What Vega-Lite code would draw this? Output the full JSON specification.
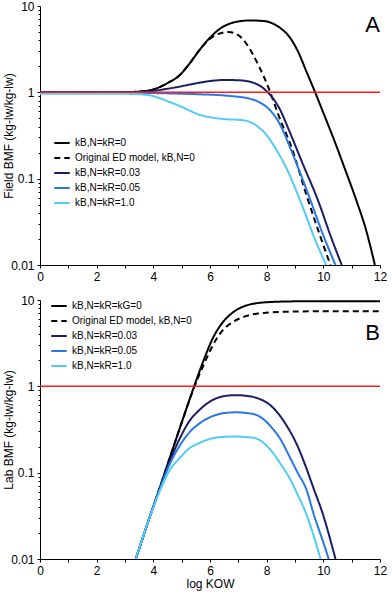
{
  "$schema": "https://vega.github.io/schema/vega-lite/v6.json",
  "padding": {"top": 0, "left": 2, "right": 4, "bottom": 2},
  "spacing": 12,
  "config": {
    "font": "Liberation Sans",
    "view": {"stroke": null},
    "axis": {"domainColor": "#000", "tickColor": "#000", "labelColor": "#000", "titleColor": "#000", "labelFontSize": 12, "titleFontSize": 12, "titleFontWeight": "normal", "grid": false, "labelPadding": 3},
    "axisY": {"titlePadding": -5},
    "legend": {"orient": "none", "title": null, "symbolType": "stroke", "symbolSize": 240, "symbolStrokeWidth": 2, "labelFontSize": 10, "labelOffset": 4, "rowPadding": 1, "padding": 0, "labelColor": "#000"},
    "title": {"fontSize": 22, "fontWeight": "normal", "color": "#000", "anchor": "end", "frame": "group"}
  },
  "datasets": {
    "A": [
      {"s":"kB,N=kR=0","x":0,"y":1},{"s":"kB,N=kR=0","x":1,"y":1},{"s":"kB,N=kR=0","x":2,"y":1},{"s":"kB,N=kR=0","x":3,"y":1.005},{"s":"kB,N=kR=0","x":3.5,"y":1.02},{"s":"kB,N=kR=0","x":4,"y":1.08},{"s":"kB,N=kR=0","x":4.5,"y":1.28},{"s":"kB,N=kR=0","x":4.9,"y":1.55},{"s":"kB,N=kR=0","x":5.3,"y":2.2},{"s":"kB,N=kR=0","x":5.6,"y":3.0},{"s":"kB,N=kR=0","x":6.0,"y":4.3},{"s":"kB,N=kR=0","x":6.3,"y":5.3},{"s":"kB,N=kR=0","x":6.8,"y":6.4},{"s":"kB,N=kR=0","x":7.4,"y":6.8},{"s":"kB,N=kR=0","x":7.9,"y":6.7},{"s":"kB,N=kR=0","x":8.2,"y":6.3},{"s":"kB,N=kR=0","x":8.5,"y":5.5},{"s":"kB,N=kR=0","x":8.8,"y":4.4},{"s":"kB,N=kR=0","x":9.1,"y":3.0},{"s":"kB,N=kR=0","x":9.4,"y":1.75},{"s":"kB,N=kR=0","x":9.7,"y":1.02},{"s":"kB,N=kR=0","x":10.0,"y":0.58},{"s":"kB,N=kR=0","x":10.4,"y":0.27},{"s":"kB,N=kR=0","x":10.8,"y":0.12},{"s":"kB,N=kR=0","x":11.2,"y":0.052},{"s":"kB,N=kR=0","x":11.5,"y":0.026},{"s":"kB,N=kR=0","x":11.82,"y":0.01},
      {"s":"Original ED model, kB,N=0","x":0,"y":1},{"s":"Original ED model, kB,N=0","x":1,"y":1},{"s":"Original ED model, kB,N=0","x":2,"y":1},{"s":"Original ED model, kB,N=0","x":3,"y":1.005},{"s":"Original ED model, kB,N=0","x":3.5,"y":1.02},{"s":"Original ED model, kB,N=0","x":4,"y":1.08},{"s":"Original ED model, kB,N=0","x":4.5,"y":1.28},{"s":"Original ED model, kB,N=0","x":4.9,"y":1.55},{"s":"Original ED model, kB,N=0","x":5.3,"y":2.2},{"s":"Original ED model, kB,N=0","x":5.6,"y":3.0},{"s":"Original ED model, kB,N=0","x":5.9,"y":3.9},{"s":"Original ED model, kB,N=0","x":6.2,"y":4.6},{"s":"Original ED model, kB,N=0","x":6.65,"y":5.0},{"s":"Original ED model, kB,N=0","x":7.0,"y":4.6},{"s":"Original ED model, kB,N=0","x":7.26,"y":3.75},{"s":"Original ED model, kB,N=0","x":7.5,"y":2.8},{"s":"Original ED model, kB,N=0","x":7.73,"y":2.0},{"s":"Original ED model, kB,N=0","x":8.08,"y":1.1},{"s":"Original ED model, kB,N=0","x":8.43,"y":0.53},{"s":"Original ED model, kB,N=0","x":8.9,"y":0.22},{"s":"Original ED model, kB,N=0","x":9.37,"y":0.07},{"s":"Original ED model, kB,N=0","x":9.84,"y":0.024},{"s":"Original ED model, kB,N=0","x":10.25,"y":0.01},
      {"s":"kB,N=kR=0.03","x":0,"y":1},{"s":"kB,N=kR=0.03","x":3,"y":1.0},{"s":"kB,N=kR=0.03","x":3.5,"y":1.01},{"s":"kB,N=kR=0.03","x":4,"y":1.04},{"s":"kB,N=kR=0.03","x":4.5,"y":1.1},{"s":"kB,N=kR=0.03","x":4.9,"y":1.16},{"s":"kB,N=kR=0.03","x":5.5,"y":1.27},{"s":"kB,N=kR=0.03","x":6.0,"y":1.35},{"s":"kB,N=kR=0.03","x":6.5,"y":1.39},{"s":"kB,N=kR=0.03","x":7.0,"y":1.38},{"s":"kB,N=kR=0.03","x":7.5,"y":1.3},{"s":"kB,N=kR=0.03","x":7.8,"y":1.17},{"s":"kB,N=kR=0.03","x":8.0,"y":1.03},{"s":"kB,N=kR=0.03","x":8.2,"y":0.87},{"s":"kB,N=kR=0.03","x":8.43,"y":0.67},{"s":"kB,N=kR=0.03","x":8.78,"y":0.37},{"s":"kB,N=kR=0.03","x":9.25,"y":0.155},{"s":"kB,N=kR=0.03","x":9.84,"y":0.053},{"s":"kB,N=kR=0.03","x":10.25,"y":0.022},{"s":"kB,N=kR=0.03","x":10.65,"y":0.01},
      {"s":"kB,N=kR=0.05","x":0,"y":0.99},{"s":"kB,N=kR=0.05","x":3,"y":0.99},{"s":"kB,N=kR=0.05","x":4,"y":0.98},{"s":"kB,N=kR=0.05","x":4.9,"y":0.965},{"s":"kB,N=kR=0.05","x":5.6,"y":0.95},{"s":"kB,N=kR=0.05","x":6.67,"y":0.91},{"s":"kB,N=kR=0.05","x":7.49,"y":0.83},{"s":"kB,N=kR=0.05","x":7.8,"y":0.75},{"s":"kB,N=kR=0.05","x":8.08,"y":0.64},{"s":"kB,N=kR=0.05","x":8.43,"y":0.45},{"s":"kB,N=kR=0.05","x":8.9,"y":0.2},{"s":"kB,N=kR=0.05","x":9.49,"y":0.063},{"s":"kB,N=kR=0.05","x":10.0,"y":0.022},{"s":"kB,N=kR=0.05","x":10.43,"y":0.01},
      {"s":"kB,N=kR=1.0","x":0,"y":0.965},{"s":"kB,N=kR=1.0","x":3,"y":0.96},{"s":"kB,N=kR=1.0","x":3.5,"y":0.95},{"s":"kB,N=kR=1.0","x":3.9,"y":0.92},{"s":"kB,N=kR=1.0","x":4.2,"y":0.86},{"s":"kB,N=kR=1.0","x":4.5,"y":0.79},{"s":"kB,N=kR=1.0","x":4.91,"y":0.7},{"s":"kB,N=kR=1.0","x":5.3,"y":0.61},{"s":"kB,N=kR=1.0","x":5.62,"y":0.55},{"s":"kB,N=kR=1.0","x":6.0,"y":0.515},{"s":"kB,N=kR=1.0","x":6.5,"y":0.49},{"s":"kB,N=kR=1.0","x":7.0,"y":0.48},{"s":"kB,N=kR=1.0","x":7.26,"y":0.47},{"s":"kB,N=kR=1.0","x":7.5,"y":0.44},{"s":"kB,N=kR=1.0","x":7.73,"y":0.39},{"s":"kB,N=kR=1.0","x":8.0,"y":0.32},{"s":"kB,N=kR=1.0","x":8.19,"y":0.26},{"s":"kB,N=kR=1.0","x":8.66,"y":0.14},{"s":"kB,N=kR=1.0","x":9.25,"y":0.049},{"s":"kB,N=kR=1.0","x":9.7,"y":0.02},{"s":"kB,N=kR=1.0","x":10.1,"y":0.01}
    ],
    "B": [
      {"s":"kB,N=kR=kG=0","x":3.38,"y":0.01},{"s":"kB,N=kR=kG=0","x":3.8,"y":0.026},{"s":"kB,N=kR=kG=0","x":4.2,"y":0.063},{"s":"kB,N=kR=kG=0","x":4.6,"y":0.155},{"s":"kB,N=kR=kG=0","x":5.0,"y":0.38},{"s":"kB,N=kR=kG=0","x":5.44,"y":1.0},{"s":"kB,N=kR=kG=0","x":5.8,"y":2.1},{"s":"kB,N=kR=kG=0","x":6.08,"y":3.5},{"s":"kB,N=kR=kG=0","x":6.43,"y":5.4},{"s":"kB,N=kR=kG=0","x":6.79,"y":7.1},{"s":"kB,N=kR=kG=0","x":7.26,"y":8.6},{"s":"kB,N=kR=kG=0","x":7.96,"y":9.4},{"s":"kB,N=kR=kG=0","x":9,"y":9.65},{"s":"kB,N=kR=kG=0","x":10,"y":9.7},{"s":"kB,N=kR=kG=0","x":12,"y":9.7},
      {"s":"Original ED model, kB,N=0","x":3.38,"y":0.01},{"s":"Original ED model, kB,N=0","x":3.8,"y":0.026},{"s":"Original ED model, kB,N=0","x":4.2,"y":0.063},{"s":"Original ED model, kB,N=0","x":4.6,"y":0.155},{"s":"Original ED model, kB,N=0","x":5.0,"y":0.38},{"s":"Original ED model, kB,N=0","x":5.44,"y":0.97},{"s":"Original ED model, kB,N=0","x":5.8,"y":1.85},{"s":"Original ED model, kB,N=0","x":6.08,"y":2.9},{"s":"Original ED model, kB,N=0","x":6.43,"y":4.4},{"s":"Original ED model, kB,N=0","x":6.79,"y":5.5},{"s":"Original ED model, kB,N=0","x":7.26,"y":6.5},{"s":"Original ED model, kB,N=0","x":7.96,"y":7.1},{"s":"Original ED model, kB,N=0","x":9,"y":7.35},{"s":"Original ED model, kB,N=0","x":10,"y":7.4},{"s":"Original ED model, kB,N=0","x":12,"y":7.4},
      {"s":"kB,N=kR=0.03","x":3.38,"y":0.01},{"s":"kB,N=kR=0.03","x":3.8,"y":0.026},{"s":"kB,N=kR=0.03","x":4.2,"y":0.062},{"s":"kB,N=kR=0.03","x":4.6,"y":0.14},{"s":"kB,N=kR=0.03","x":4.91,"y":0.24},{"s":"kB,N=kR=0.03","x":5.26,"y":0.39},{"s":"kB,N=kR=0.03","x":5.62,"y":0.53},{"s":"kB,N=kR=0.03","x":6.08,"y":0.69},{"s":"kB,N=kR=0.03","x":6.5,"y":0.77},{"s":"kB,N=kR=0.03","x":6.9,"y":0.79},{"s":"kB,N=kR=0.03","x":7.3,"y":0.775},{"s":"kB,N=kR=0.03","x":7.61,"y":0.74},{"s":"kB,N=kR=0.03","x":8.19,"y":0.58},{"s":"kB,N=kR=0.03","x":8.66,"y":0.37},{"s":"kB,N=kR=0.03","x":9.13,"y":0.19},{"s":"kB,N=kR=0.03","x":9.37,"y":0.12},{"s":"kB,N=kR=0.03","x":9.7,"y":0.06},{"s":"kB,N=kR=0.03","x":9.96,"y":0.035},{"s":"kB,N=kR=0.03","x":10.2,"y":0.019},{"s":"kB,N=kR=0.03","x":10.43,"y":0.01},
      {"s":"kB,N=kR=0.05","x":3.38,"y":0.01},{"s":"kB,N=kR=0.05","x":3.8,"y":0.026},{"s":"kB,N=kR=0.05","x":4.2,"y":0.061},{"s":"kB,N=kR=0.05","x":4.6,"y":0.13},{"s":"kB,N=kR=0.05","x":4.91,"y":0.2},{"s":"kB,N=kR=0.05","x":5.26,"y":0.29},{"s":"kB,N=kR=0.05","x":5.62,"y":0.37},{"s":"kB,N=kR=0.05","x":6.08,"y":0.45},{"s":"kB,N=kR=0.05","x":6.5,"y":0.49},{"s":"kB,N=kR=0.05","x":6.9,"y":0.5},{"s":"kB,N=kR=0.05","x":7.3,"y":0.49},{"s":"kB,N=kR=0.05","x":7.61,"y":0.47},{"s":"kB,N=kR=0.05","x":8.19,"y":0.33},{"s":"kB,N=kR=0.05","x":8.5,"y":0.24},{"s":"kB,N=kR=0.05","x":8.78,"y":0.16},{"s":"kB,N=kR=0.05","x":9.13,"y":0.095},{"s":"kB,N=kR=0.05","x":9.37,"y":0.068},{"s":"kB,N=kR=0.05","x":9.7,"y":0.03},{"s":"kB,N=kR=0.05","x":9.96,"y":0.017},{"s":"kB,N=kR=0.05","x":10.19,"y":0.01},
      {"s":"kB,N=kR=1.0","x":3.38,"y":0.01},{"s":"kB,N=kR=1.0","x":3.8,"y":0.026},{"s":"kB,N=kR=1.0","x":4.2,"y":0.058},{"s":"kB,N=kR=1.0","x":4.6,"y":0.11},{"s":"kB,N=kR=1.0","x":4.91,"y":0.145},{"s":"kB,N=kR=1.0","x":5.26,"y":0.19},{"s":"kB,N=kR=1.0","x":5.62,"y":0.22},{"s":"kB,N=kR=1.0","x":6.08,"y":0.25},{"s":"kB,N=kR=1.0","x":6.5,"y":0.26},{"s":"kB,N=kR=1.0","x":6.9,"y":0.262},{"s":"kB,N=kR=1.0","x":7.3,"y":0.258},{"s":"kB,N=kR=1.0","x":7.61,"y":0.25},{"s":"kB,N=kR=1.0","x":8.19,"y":0.175},{"s":"kB,N=kR=1.0","x":8.5,"y":0.125},{"s":"kB,N=kR=1.0","x":8.78,"y":0.09},{"s":"kB,N=kR=1.0","x":9.1,"y":0.055},{"s":"kB,N=kR=1.0","x":9.37,"y":0.035},{"s":"kB,N=kR=1.0","x":9.65,"y":0.019},{"s":"kB,N=kR=1.0","x":9.9,"y":0.01}
    ]
  },
  "resolve": {"scale": {"color": "independent", "strokeDash": "independent"}, "legend": {"color": "independent", "strokeDash": "independent"}},
  "vconcat": [
    {
      "width": 340, "height": 259,
      "title": {"text": "A", "offset": -37},
      "layer": [
        {
          "data": {"name": "A"},
          "mark": {"type": "line", "strokeWidth": 2, "interpolate": "monotone", "clip": true},
          "encoding": {
            "x": {"field": "x", "type": "quantitative", "scale": {"domain": [0, 12], "nice": false},
              "axis": {"title": null, "values": [0,1,2,3,4,5,6,7,8,9,10,11,12], "labelExpr": "datum.value % 2 === 0 ? datum.label : ''", "tickSize": 3, "labelOverlap": false, "labelFlush": false}},
            "y": {"field": "y", "type": "quantitative", "scale": {"type": "log", "domain": [0.01, 10], "nice": false},
              "axis": {"title": "Field BMF (kg-lw/kg-lw)", "format": "~g", "labelOverlap": false,
                "values": [0.01,0.02,0.03,0.04,0.05,0.06,0.07,0.08,0.09,0.1,0.2,0.3,0.4,0.5,0.6,0.7,0.8,0.9,1,2,3,4,5,6,7,8,9,10],
                "labelExpr": "indexof([0.01,0.1,1,10], datum.value) >= 0 ? datum.label : ''",
                "tickSize": {"condition": {"test": "indexof([0.01,0.1,1,10], datum.value) >= 0", "value": 3}, "value": 2}}},
            "color": {"field": "s", "type": "nominal",
              "scale": {"domain": ["kB,N=kR=0","Original ED model, kB,N=0","kB,N=kR=0.03","kB,N=kR=0.05","kB,N=kR=1.0"], "range": ["#000000","#000000","#1b1d66","#2a78e4","#52cbf5"]},
              "legend": {"legendX": 13, "legendY": 128}},
            "strokeDash": {"field": "s", "type": "nominal",
              "scale": {"domain": ["kB,N=kR=0","Original ED model, kB,N=0","kB,N=kR=0.03","kB,N=kR=0.05","kB,N=kR=1.0"], "range": [[1,0],[6,4],[1,0],[1,0],[1,0]]},
              "legend": {"legendX": 13, "legendY": 128}}
          }
        },
        {
          "data": {"values": [{}]},
          "mark": {"type": "rule", "color": "#ff1a1a", "strokeWidth": 1.5},
          "encoding": {"y": {"datum": 1}}
        }
      ]
    },
    {
      "width": 340, "height": 259,
      "title": {"text": "B", "offset": -51},
      "layer": [
        {
          "data": {"name": "B"},
          "mark": {"type": "line", "strokeWidth": 2, "interpolate": "monotone", "clip": true},
          "encoding": {
            "x": {"field": "x", "type": "quantitative", "scale": {"domain": [0, 12], "nice": false},
              "axis": {"title": "log KOW", "values": [0,1,2,3,4,5,6,7,8,9,10,11,12], "labelExpr": "datum.value % 2 === 0 ? datum.label : ''", "tickSize": 3, "labelOverlap": false, "labelFlush": false, "titlePadding": 2}},
            "y": {"field": "y", "type": "quantitative", "scale": {"type": "log", "domain": [0.01, 10], "nice": false},
              "axis": {"title": "Lab BMF (kg-lw/kg-lw)", "format": "~g", "labelOverlap": false,
                "values": [0.01,0.02,0.03,0.04,0.05,0.06,0.07,0.08,0.09,0.1,0.2,0.3,0.4,0.5,0.6,0.7,0.8,0.9,1,2,3,4,5,6,7,8,9,10],
                "labelExpr": "indexof([0.01,0.1,1,10], datum.value) >= 0 ? datum.label : ''",
                "tickSize": {"condition": {"test": "indexof([0.01,0.1,1,10], datum.value) >= 0", "value": 3}, "value": 2}}},
            "color": {"field": "s", "type": "nominal",
              "scale": {"domain": ["kB,N=kR=kG=0","Original ED model, kB,N=0","kB,N=kR=0.03","kB,N=kR=0.05","kB,N=kR=1.0"], "range": ["#000000","#000000","#1b1d66","#2a78e4","#52cbf5"]},
              "legend": {"legendX": 10, "legendY": -3}},
            "strokeDash": {"field": "s", "type": "nominal",
              "scale": {"domain": ["kB,N=kR=kG=0","Original ED model, kB,N=0","kB,N=kR=0.03","kB,N=kR=0.05","kB,N=kR=1.0"], "range": [[1,0],[6,4],[1,0],[1,0],[1,0]]},
              "legend": {"legendX": 10, "legendY": -3}}
          }
        },
        {
          "data": {"values": [{}]},
          "mark": {"type": "rule", "color": "#ff1a1a", "strokeWidth": 1.5},
          "encoding": {"y": {"datum": 1}}
        }
      ]
    }
  ]
}
